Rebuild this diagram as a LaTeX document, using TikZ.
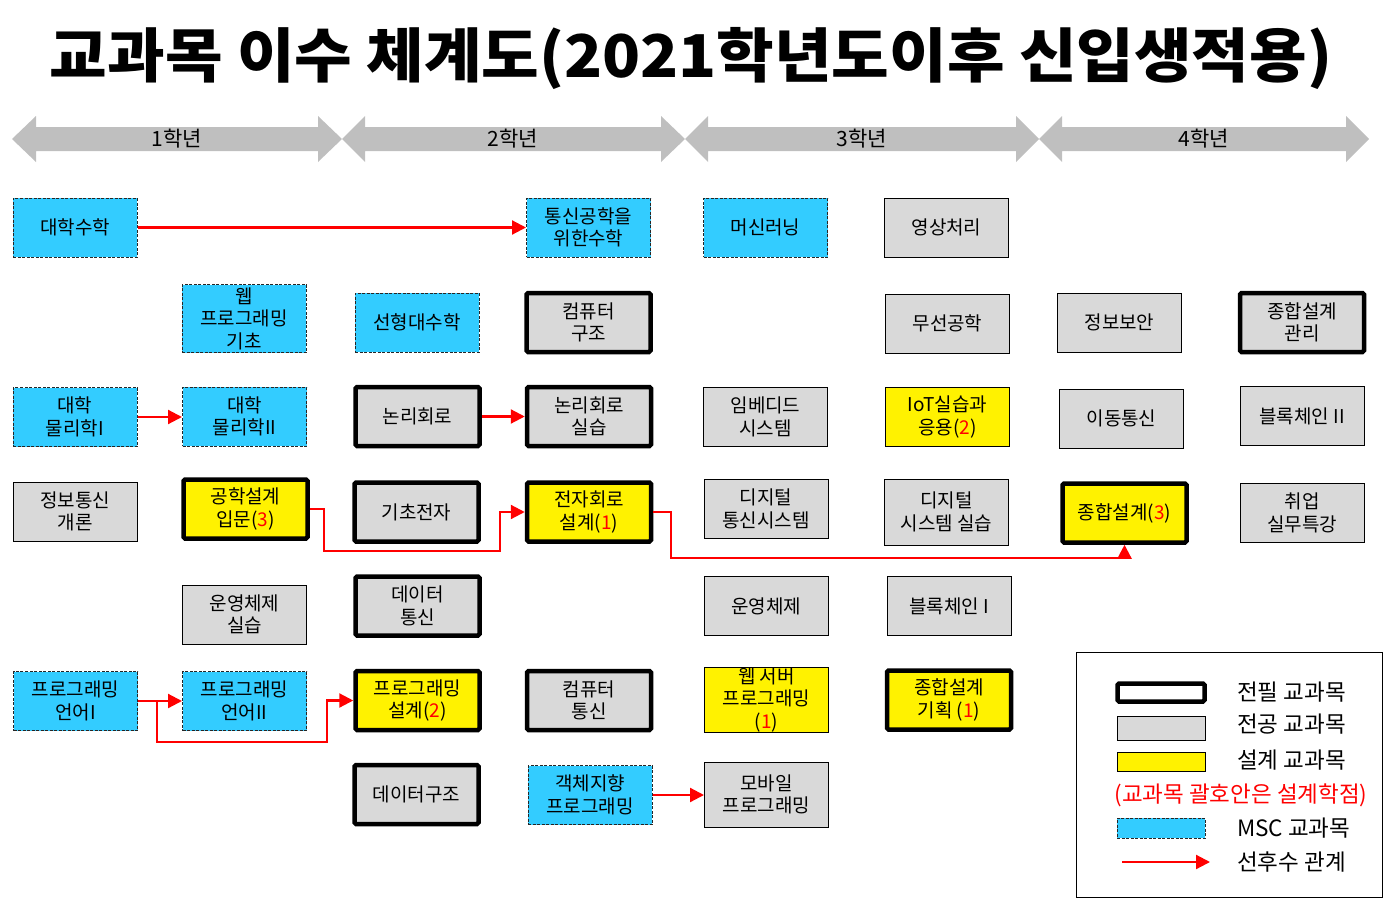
\documentclass[tikz,border=0pt]{standalone}
\usepackage{fontspec}
\usepackage{graphicx}
\usetikzlibrary{arrows.meta}
\newfontfamily\kr{Noto Sans CJK KR}
\definecolor{cgray}{HTML}{D9D9D9}
\definecolor{ccyan}{HTML}{33CCFF}
\definecolor{cyr}{HTML}{BFBFBF}
\newcommand{\rd}[1]{\textcolor{red}{#1}}
\begin{document}
\begin{tikzpicture}[x=1pt,y=-1pt,
  box/.style={minimum width=124pt, minimum height=59pt, inner sep=0pt, align=center,
    font=\kr\fontsize{19}{22.5}\selectfont, text=black},
  gry/.style={box, fill=cgray, draw=black, line width=1pt},
  gryT/.style={box, fill=cgray, draw=black, line width=4.5pt, rounded corners=1.5pt},
  ylw/.style={box, fill=yellow, draw=black, line width=1pt},
  ylwT/.style={box, fill=yellow, draw=black, line width=4.5pt, rounded corners=1.5pt},
  msc/.style={box, fill=ccyan, draw=black!85, line width=1pt, dash pattern=on 3pt off 1.5pt},
  conn/.style={draw=red, line width=2.2pt, -{Triangle[length=14pt,width=14pt]}},
  yrlab/.style={font=\kr\fontsize{21}{24}\selectfont, inner sep=0pt},
  leglab/.style={font=\kr\fontsize{22.5}{26}\selectfont, inner sep=0pt, anchor=west},
]
\useasboundingbox (0,0) rectangle (1387,899);

% title
\node[inner sep=0pt] (title) at (691,59) {\resizebox{1282pt}{\height}{\kr\bfseries\fontsize{59}{62}\selectfont 교과목 이수 체계도(2021학년도이후 신입생적용)}};

% year arrows
\fill[cyr] (12,139) -- (36,116) -- (36,127) -- (318,127) -- (318,116) -- (342,139) -- (318,162) -- (318,151) -- (36,151) -- (36,162) -- cycle;
\fill[cyr] (342,139) -- (365,116) -- (365,127) -- (661,127) -- (661,116) -- (685,139) -- (661,162) -- (661,151) -- (365,151) -- (365,162) -- cycle;
\fill[cyr] (685,139) -- (708,116) -- (708,127) -- (1016,127) -- (1016,116) -- (1039,139) -- (1016,162) -- (1016,151) -- (708,151) -- (708,162) -- cycle;
\fill[cyr] (1039,139) -- (1062,116) -- (1062,127) -- (1346,127) -- (1346,116) -- (1369,139) -- (1346,162) -- (1346,151) -- (1062,151) -- (1062,162) -- cycle;
\node[yrlab] (y1) at (177,139) {1학년};
\node[yrlab] (y2) at (513,139) {2학년};
\node[yrlab] (y3) at (862,139) {3학년};
\node[yrlab] (y4) at (1204,139) {4학년};

% column 1
\node[msc] (a1) at (75,227.5) {대학수학};
\node[msc] (a2) at (75,417) {대학\\물리학I};
\node[gry] (a3) at (75,511.5) {정보통신\\개론};
\node[msc] (a4) at (75.5,701) {프로그래밍\\언어I};
% column 2
\node[msc, minimum height=68pt] (b1) at (244,318.5) {웹\\프로그래밍\\기초};
\node[msc] (b2) at (244.5,416.5) {대학\\물리학II};
\node[ylwT] (b3) at (245.5,509) {공학설계\\입문(\rd{3})};
\node[gry] (b4) at (244.5,614.5) {운영체제\\실습};
\node[msc] (b5) at (244.5,701) {프로그래밍\\언어II};
% column 3
\node[msc] (c1) at (417,322.5) {선형대수학};
\node[gryT] (c2) at (417.5,416.5) {논리회로};
\node[gryT] (c3) at (416.5,512) {기초전자};
\node[gryT] (c4) at (417.5,606) {데이터\\통신};
\node[ylwT] (c5) at (417.5,700.5) {프로그래밍\\설계(\rd{2})};
\node[gryT] (c6) at (416.5,794.5) {데이터구조};
% column 4
\node[msc] (d1) at (588.5,227.5) {통신공학을\\위한수학};
\node[gryT] (d2) at (588.5,322.5) {컴퓨터\\구조};
\node[gryT] (d3) at (589,416.5) {논리회로\\실습};
\node[ylwT] (d4) at (589,512) {전자회로\\설계(\rd{1})};
\node[gryT] (d5) at (589,700.5) {컴퓨터\\통신};
\node[msc] (d6) at (590,795) {객체지향\\프로그래밍};
% column 5
\node[msc] (e1) at (765.5,227.5) {머신러닝};
\node[gry] (e2) at (765.5,417) {임베디드\\시스템};
\node[gry] (e3) at (766,509) {디지털\\통신시스템};
\node[gry] (e4) at (766,606) {운영체제};
\node[ylw, minimum height=65pt] (e5) at (766.5,699.5) {웹 서버\\프로그래밍\\(\rd{1})};
\node[gry, minimum height=65pt] (e6) at (766.5,794.5) {모바일\\프로그래밍};
% column 6
\node[gry] (f1) at (946.5,227.5) {영상처리};
\node[gry] (f2) at (947.5,323.5) {무선공학};
\node[ylw] (f3) at (947.5,417) {IoT실습과\\응용(\rd{2})};
\node[gry, minimum height=66pt] (f4) at (946.5,512) {디지털\\시스템 실습};
\node[gry] (f5) at (949,606) {블록체인 I};
\node[ylwT] (f6) at (949,700) {종합설계\\기획 (\rd{1})};
% column 7
\node[gry] (g1) at (1119.5,322.5) {정보보안};
\node[gry] (g2) at (1121.5,418.5) {이동통신};
\node[ylwT] (g3) at (1124.5,513) {종합설계(\rd{3})};
% column 8
\node[gryT] (h1) at (1302,322.5) {종합설계\\관리};
\node[gry] (h2) at (1302,416) {블록체인 II};
\node[gry] (h3) at (1302,513) {취업\\실무특강};

% connectors
\draw[conn] (a1.east) -- (a1.east -| d1.west);
\draw[conn] (a2.east) -- (a2.east -| b2.west);
\draw[conn] (c2.east) -- (c2.east -| d3.west);
\draw[conn] (b3.east) -- ++(14,0) |- (500,551) |- (d4.west);
\draw[conn] (d4.east) -- ++(18,0) |- (1124.5,558) -- (g3.south);
\draw[conn] (a4.east) -- (a4.east -| b5.west);
\draw[conn] (a4.east) -- ++(19,0) |- (327,742) |- (c5.west);
\draw[conn] (d6.east) -- (d6.east -| e6.west);

% legend
\node[draw=black, line width=1pt, minimum width=306pt, minimum height=245pt, inner sep=0pt] (leg) at (1229,774.5) {};
\node[draw=black, fill=white, line width=4.5pt, rounded corners=1.5pt, minimum width=87pt, minimum height=18pt, inner sep=0pt] (lk1) at (1161,692.5) {};
\node[draw=black, fill=cgray, line width=1pt, minimum width=88pt, minimum height=24pt, inner sep=0pt] (lk2) at (1161,728) {};
\node[draw=black, fill=yellow, line width=1pt, minimum width=88pt, minimum height=19pt, inner sep=0pt] (lk3) at (1161,761.5) {};
\node[draw=black!85, fill=ccyan, line width=1pt, dash pattern=on 3pt off 1.5pt, minimum width=88pt, minimum height=20pt, inner sep=0pt] (lk4) at (1161,828) {};
\coordinate (la) at (1122,862);
\coordinate (lb) at (1210,862);
\draw[conn] (la) -- (lb);
\node[leglab] (lt1) at (1237,692) {전필 교과목};
\node[leglab] (lt2) at (1237,724) {전공 교과목};
\node[leglab] (lt3) at (1237,760) {설계 교과목};
\node[font=\kr\fontsize{22.5}{26}\selectfont, inner sep=0pt, text=red] (lt4) at (1241,795) {(교과목 괄호안은 설계학점)};
\node[leglab] (lt5) at (1237,828) {MSC 교과목};
\node[leglab] (lt6) at (1237,862) {선후수 관계};
\end{tikzpicture}
\end{document}
